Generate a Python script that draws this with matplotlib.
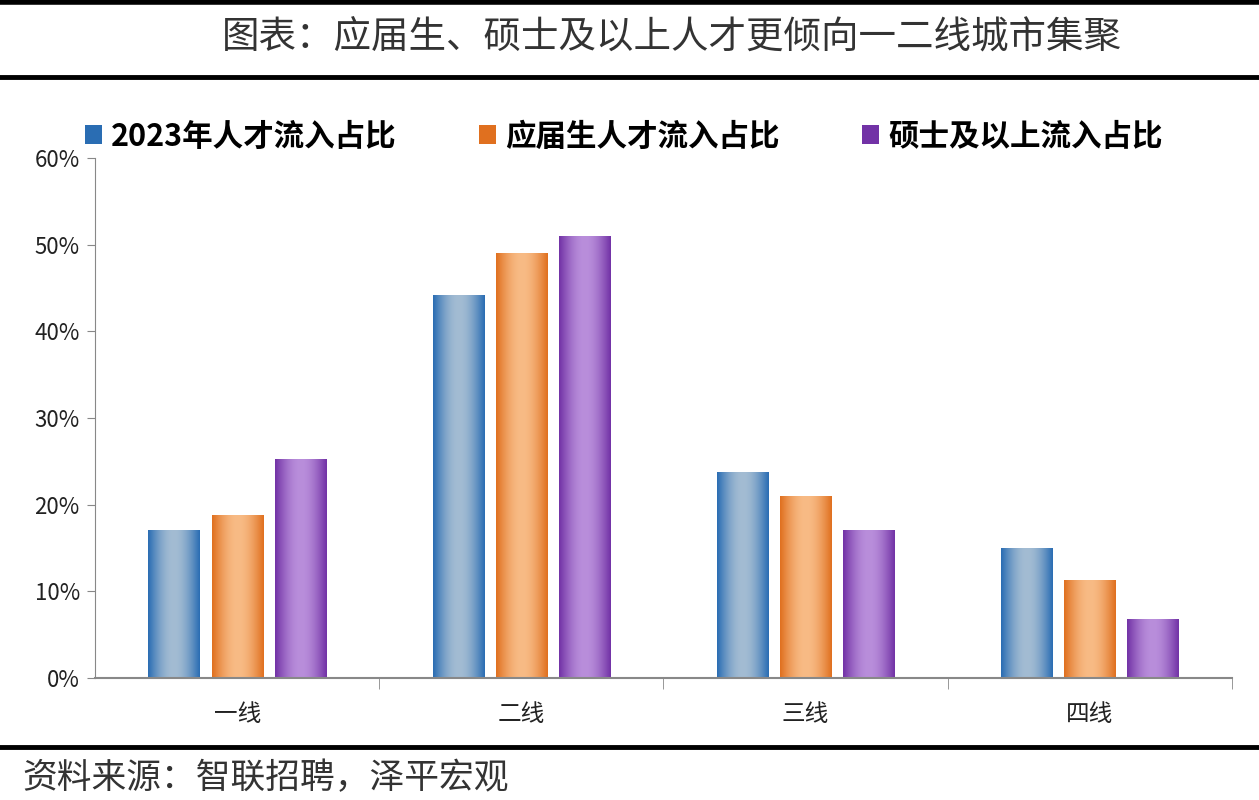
import matplotlib
matplotlib.use("Agg")
import matplotlib.pyplot as plt
import numpy as np
from matplotlib.colors import LinearSegmentedColormap
from matplotlib.lines import Line2D
from matplotlib.patches import Patch

plt.rcParams['font.family'] = ['Noto Sans CJK SC', 'DejaVu Sans']

categories = ['一线', '二线', '三线', '四线']
talent_2023 = [17.0, 44.1, 23.7, 15.0]
graduates = [18.7, 49.0, 20.9, 11.2]
masters = [25.2, 50.9, 17.0, 6.8]
series_names = ['2023年人才流入占比', '应届生人才流入占比', '硕士及以上流入占比']
yticks = [0, 10, 20, 30, 40, 50, 60]

# edge colour, centre colour for the cylinder-like gradient
grad_colors = [('#2a6db3', '#a3bcd3'), ('#e0701f', '#f8bb85'), ('#7232a6', '#b98edb')]

fig = plt.figure(figsize=(12.59, 8), dpi=100)
ax = fig.add_axes([0.0755, 0.1525, 0.903, 0.65])

x = np.arange(len(categories))
w = 0.18
step = 0.222
grad = np.concatenate([np.linspace(0, 1, 50), np.linspace(1, 0, 50)])
grad = np.abs(np.sin(grad * np.pi / 2)).reshape(1, -1)

for i, vals in enumerate([talent_2023, graduates, masters]):
    cmap = LinearSegmentedColormap.from_list('g%d' % i, list(grad_colors[i]))
    bars = ax.bar(x + (i - 1) * step, vals, width=w, color='none', edgecolor='none')
    for b in bars:
        ax.imshow(grad, extent=[b.get_x(), b.get_x() + b.get_width(), 0, b.get_height()],
                  aspect='auto', cmap=cmap, interpolation='bicubic', zorder=2)

ax.set_xlim(-0.5, 3.5)
ax.set_ylim(0, 60)
ax.set_yticks(yticks)
ax.set_yticklabels(['%d%%' % t for t in yticks], fontsize=16, color='#222222')
ax.set_xticks(x)
ax.set_xticklabels(categories, fontsize=17, color='#222222')
ax.set_xticks([0.5, 1.5, 2.5, 3.5], minor=True)
ax.tick_params(axis='x', which='major', length=0, pad=18)
ax.tick_params(axis='x', which='minor', length=8, color='#888888', direction='out')
ax.tick_params(axis='y', length=6, color='#888888', direction='out', pad=5)
for s in ['top', 'right']:
    ax.spines[s].set_visible(False)
ax.spines['left'].set_color('#888888')
ax.spines['bottom'].set_color('#888888')
ax.spines['bottom'].set_linewidth(1.5)

handles = [Patch(facecolor=c[0], edgecolor='none') for c in grad_colors]
ax.legend(handles, series_names, loc='upper left', bbox_to_anchor=(-0.033, 1.125), ncol=3,
          frameon=False, prop={'family': ['Noto Sans CJK SC', 'DejaVu Sans'], 'weight': 'bold', 'size': 22},
          handlelength=0.55, handleheight=0.55, handletextpad=0.3, columnspacing=2.7)

# title, rules and source
fig.text(0.534, 0.952, '图表：应届生、硕士及以上人才更倾向一二线城市集聚', ha='center', va='center',
         fontsize=27, color='#333333')
fig.add_artist(Line2D([0, 1], [0.997, 0.997], color='black', lw=4))
fig.add_artist(Line2D([0, 1], [0.904, 0.904], color='black', lw=3.5))
fig.add_artist(Line2D([0, 1], [0.066, 0.066], color='black', lw=3.5))
fig.text(0.018, 0.027, '资料来源：智联招聘，泽平宏观', ha='left', va='center', fontsize=25,
         color='#333333', style='italic')

fig.savefig('out.png', dpi=100, facecolor='white')
